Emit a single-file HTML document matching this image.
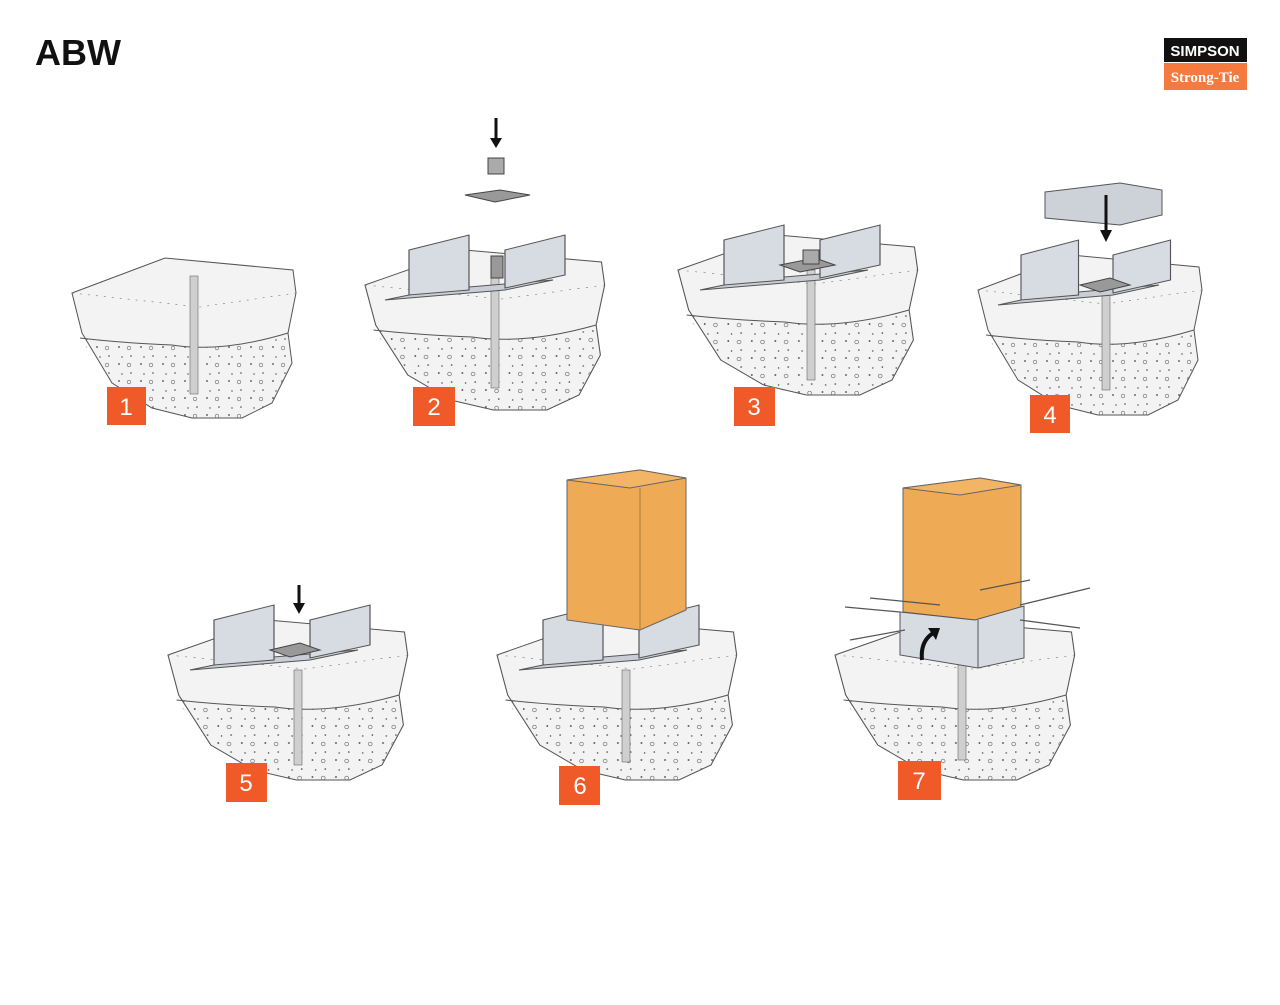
<!DOCTYPE html>
<html><head><meta charset="utf-8"><style>
body{margin:0;background:#fff;width:1280px;height:1000px;overflow:hidden;font-family:"Liberation Sans",sans-serif}
</style></head><body>
<svg width="1280" height="1000" viewBox="0 0 1280 1000" xmlns="http://www.w3.org/2000/svg">
<defs>
<pattern id="dots" width="22" height="17" patternUnits="userSpaceOnUse">
<circle cx="3" cy="3" r="0.9" fill="#444"/><circle cx="15" cy="12" r="0.8" fill="#444"/><circle cx="13" cy="4" r="1.8" fill="none" stroke="#666" stroke-width="0.6"/><circle cx="6" cy="13" r="0.7" fill="#444"/>
</pattern>
<g id="blk">
<path d="M0,0 L93,-35 L221,-23 L224,0 L216,40 L220,70 L200,110 L170,125 L120,125 L80,115 L40,90 L10,40 Z" fill="#f3f3f3" stroke="#555" stroke-width="1"/>
<path d="M8,45 L40,90 L80,115 L120,125 L170,125 L200,110 L220,70 L216,40 Q150,60 100,52 Q50,50 8,45 Z" fill="url(#dots)"/>
<path d="M8,45 Q50,50 100,52 Q150,60 216,40" fill="none" stroke="#555" stroke-width="1"/>
<path d="M0,0 L128,14 L224,0" fill="none" stroke="#777" stroke-width="0.6" stroke-dasharray="2 6"/>
</g>
<g id="brk">
<path d="M0,30 L100,20 L140,10 L40,20 Z" fill="#c9ced6" stroke="#555"/>
<path d="M20,-20 L70,-35 L70,20 L20,25 Z" fill="#d7dbe2" stroke="#555"/>
<path d="M100,-20 L150,-35 L150,5 L100,18 Z" fill="#d7dbe2" stroke="#555"/>
</g>
</defs>

<text x="35" y="65" font-size="36" font-weight="bold" fill="#111">ABW</text>
<rect x="1164" y="38" width="83" height="24" fill="#111"/>
<text x="1205" y="56" font-size="15" font-weight="bold" fill="#fff" text-anchor="middle">SIMPSON</text>
<rect x="1164" y="63" width="83" height="27" fill="#f47a3d"/>
<text x="1205" y="82" font-size="15" font-weight="bold" fill="#fff" text-anchor="middle" font-family="Liberation Serif,serif">Strong-Tie</text>

<use href="#blk" transform="translate(72,293)"/>
<rect x="190" y="276" width="8" height="118" fill="#cfcfcf" stroke="#666" stroke-width="0.6"/>
<use href="#blk" transform="translate(365,285) scale(1.07,1)"/>
<rect x="491" y="270" width="8" height="118" fill="#cfcfcf" stroke="#666" stroke-width="0.6"/>
<use href="#brk" transform="translate(385,270) scale(1.2,1)"/>
<rect x="491" y="256" width="12" height="22" fill="#999" stroke="#444"/>
<path d="M465,195 L500,190 L530,195 L495,202 Z" fill="#999" stroke="#444"/>
<rect x="488" y="158" width="16" height="16" fill="#aaa" stroke="#444"/>
<path d="M496,118 V140" stroke="#111" stroke-width="3"/><path d="M490,138 L496,148 L502,138 Z" fill="#111"/>
<use href="#blk" transform="translate(678,270) scale(1.07,1)"/>
<rect x="807" y="270" width="8" height="110" fill="#cfcfcf" stroke="#666" stroke-width="0.6"/>
<use href="#brk" transform="translate(700,260) scale(1.2,1)"/>
<path d="M780,265 L815,258 L835,265 L800,272 Z" fill="#999" stroke="#444"/>
<rect x="803" y="250" width="16" height="14" fill="#aaa" stroke="#444"/>
<use href="#blk" transform="translate(978,290)"/>
<rect x="1102" y="295" width="8" height="95" fill="#cfcfcf" stroke="#666" stroke-width="0.6"/>
<use href="#brk" transform="translate(998,275) scale(1.15,1)"/>
<path d="M1080,285 L1110,278 L1130,285 L1100,292 Z" fill="#999" stroke="#444"/>
<path d="M1045,192 L1120,183 L1162,190 L1162,215 L1120,225 L1045,218 Z" fill="#cdd2d9" stroke="#555"/>
<path d="M1106,195 V232" stroke="#111" stroke-width="3"/><path d="M1100,230 L1106,242 L1112,230 Z" fill="#111"/>
<use href="#blk" transform="translate(168,655) scale(1.07,1)"/>
<rect x="294" y="670" width="8" height="95" fill="#cfcfcf" stroke="#666" stroke-width="0.6"/>
<use href="#brk" transform="translate(190,640) scale(1.2,1)"/>
<path d="M270,650 L300,643 L320,650 L290,657 Z" fill="#999" stroke="#444"/>
<path d="M299,585 V605" stroke="#111" stroke-width="3"/><path d="M293,603 L299,614 L305,603 Z" fill="#111"/>
<use href="#blk" transform="translate(497,655) scale(1.07,1)"/>
<rect x="622" y="670" width="8" height="92" fill="#cfcfcf" stroke="#666" stroke-width="0.6"/>
<use href="#brk" transform="translate(519,640) scale(1.2,1)"/>
<path d="M567,480 L640,470 L686,478 L686,610 L640,630 L567,620 Z" fill="#eeaa55" stroke="#666"/>
<path d="M567,480 L640,470 L686,478 L630,488 Z" fill="#f2b565" stroke="#666"/>
<path d="M640,488 V630" stroke="#b07a35"/>
<use href="#blk" transform="translate(835,655) scale(1.07,1)"/>
<rect x="958" y="665" width="8" height="95" fill="#cfcfcf" stroke="#666" stroke-width="0.6"/>
<path d="M903,488 L980,478 L1021,485 L1021,610 L975,620 L903,612 Z" fill="#eeaa55" stroke="#666"/>
<path d="M903,488 L980,478 L1021,485 L960,495 Z" fill="#f2b565" stroke="#666"/>
<path d="M900,612 L975,620 L1024,606 L1024,658 L978,668 L900,655 Z" fill="#d7dbe2" stroke="#555"/>
<path d="M978,620 V668" stroke="#555"/>
<path d="M845,607 L900,612 M870,598 L940,605 M850,640 L905,630 M1030,580 L980,590 M1090,588 L1020,605 M1020,620 L1080,628" stroke="#555" stroke-width="1.2"/>
<path d="M922,660 Q920,640 935,632" stroke="#111" stroke-width="4" fill="none"/><path d="M928,628 L940,628 L936,640 Z" fill="#111"/>

<g font-size="24" fill="#fff" text-anchor="middle">
<rect x="107" y="387" width="39" height="38" fill="#f05a28"/><text x="126" y="415">1</text>
<rect x="413" y="387" width="42" height="39" fill="#f05a28"/><text x="434" y="415">2</text>
<rect x="734" y="387" width="41" height="39" fill="#f05a28"/><text x="754" y="415">3</text>
<rect x="1030" y="395" width="40" height="38" fill="#f05a28"/><text x="1050" y="423">4</text>
<rect x="226" y="763" width="41" height="39" fill="#f05a28"/><text x="246" y="791">5</text>
<rect x="559" y="766" width="41" height="39" fill="#f05a28"/><text x="580" y="794">6</text>
<rect x="898" y="761" width="43" height="39" fill="#f05a28"/><text x="919" y="789">7</text>
</g>
</svg>
</body></html>
